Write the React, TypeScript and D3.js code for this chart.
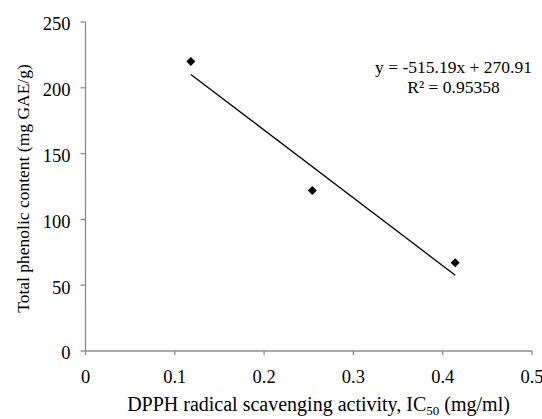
import React from 'react';
import { scaleLinear, line } from 'd3';

const width = 542;
const height = 419;
const margin = { top: 22, right: 10, bottom: 68, left: 85.5 };

// data
const ic50 = [0.118, 0.254, 0.414];
const phenolic = [220, 122, 67];
const slope = -515.19;
const intercept = 270.91;
const xTicks = [0, 0.1, 0.2, 0.3, 0.4, 0.5];
const yTicks = [0, 50, 100, 150, 200, 250];
const equationLabel = 'y = -515.19x + 270.91';
const r2Label = 'R² = 0.95358';

const font = '"Liberation Serif", "Times New Roman", serif';
const axisColor = '#8c8c8c';

const App = () => {
  const innerWidth = width - margin.left - margin.right;
  const innerHeight = height - margin.top - margin.bottom;

  const xScale = scaleLinear().domain([0, 0.5]).range([0, innerWidth]);
  const yScale = scaleLinear().domain([0, 250]).range([innerHeight, 0]);

  const points = ic50.map((x, i) => ({ x, y: phenolic[i] }));
  const xMin = Math.min(...ic50);
  const xMax = Math.max(...ic50);
  const trend = [xMin, xMax].map(x => ({ x, y: slope * x + intercept }));
  const trendPath = line<{ x: number; y: number }>()
    .x(d => xScale(d.x))
    .y(d => yScale(d.y))(trend);

  const s = 4.5;
  const diamond = `M0,${-s}L${s},0L0,${s}L${-s},0Z`;

  return (
    <svg width={width} height={height} style={{ position: 'absolute', left: 0, top: 0, fontFamily: font }}>
      <rect width={width} height={height} fill="white" />
      <g transform={`translate(${margin.left},${margin.top})`}>
        {/* y axis */}
        <line x1={0} x2={0} y1={0} y2={innerHeight} stroke={axisColor} strokeWidth={1.3} />
        {yTicks.map(t => (
          <g key={t} transform={`translate(0,${yScale(t)})`}>
            <line x1={-5} x2={0} stroke={axisColor} strokeWidth={1.3} />
            <text x={-15} dy=".45em" textAnchor="end" fontSize={18.5}>{t}</text>
          </g>
        ))}
        {/* x axis */}
        <line x1={0} x2={innerWidth} y1={innerHeight} y2={innerHeight} stroke={axisColor} strokeWidth={1.3} />
        {xTicks.map(t => (
          <g key={t} transform={`translate(${xScale(t)},${innerHeight})`}>
            <line y1={0} y2={4} stroke={axisColor} strokeWidth={1.3} />
            <text y={32} textAnchor="middle" fontSize={18.5}>{t}</text>
          </g>
        ))}

        {/* trendline */}
        <path d={trendPath || ''} fill="none" stroke="black" strokeWidth={1.3} />

        {/* points */}
        {points.map((d, i) => (
          <path key={i} d={diamond} transform={`translate(${xScale(d.x)},${yScale(d.y)})`} fill="black" />
        ))}

        {/* equation */}
        <text x={368} y={51} textAnchor="middle" fontSize={17.5}>{equationLabel}</text>
        <text x={368} y={71} textAnchor="middle" fontSize={17.5}>{r2Label}</text>

        {/* axis titles */}
        <text x={233} y={innerHeight + 60} textAnchor="middle" fontSize={20}>
          DPPH radical scavenging activity, IC
          <tspan fontSize={13} dy={4}>50</tspan>
          <tspan dy={-4}> (mg/ml)</tspan>
        </text>
        <text
          transform={`translate(${-57},${innerHeight / 2 + 2}) rotate(-90)`}
          textAnchor="middle"
          fontSize={17.5}
        >
          Total phenolic content (mg GAE/g)
        </text>
      </g>
    </svg>
  );
};

export default App;
